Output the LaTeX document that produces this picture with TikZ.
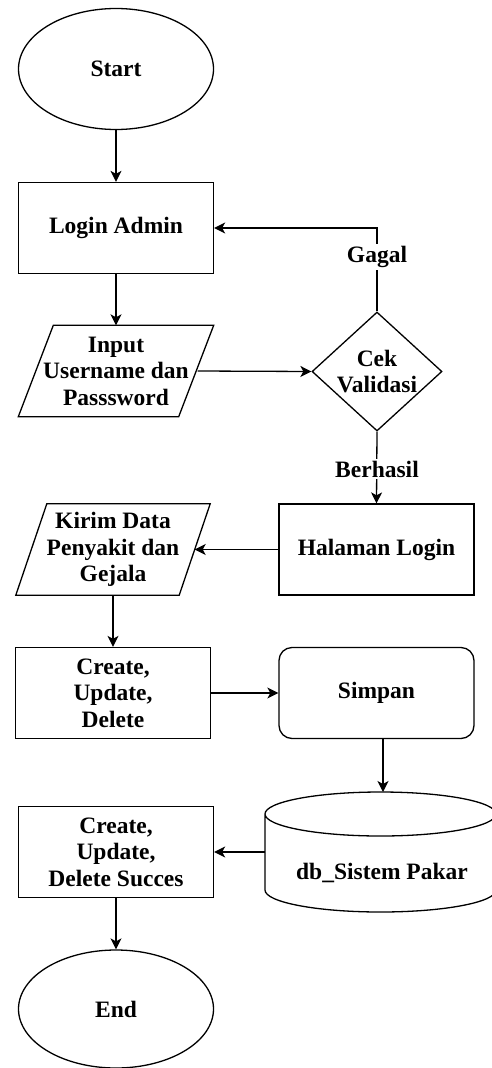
\documentclass[tikz,border=0pt]{standalone}
\usepackage{fontspec}
\setmainfont{Liberation Serif}
\usetikzlibrary{shapes.geometric,arrows.meta,calc}
\begin{document}
\begin{tikzpicture}[x=1pt,y=-1pt,
  every node/.style={font=\bfseries\fontsize{23.5}{26.5}\selectfont, align=center, inner sep=0pt},
  line/.style={line width=1.3pt, draw=black},
  arr/.style={line, -{Stealth[length=11pt,width=11pt,inset=3pt]}},
  terminal/.style={ellipse, line, minimum width=195pt, minimum height=121pt},
  process/.style={rectangle, line, minimum width=195pt, minimum height=91pt},
  rounded/.style={process, rounded corners=13pt},
  decision/.style={diamond, line, minimum width=130pt, minimum height=119pt, aspect=1.09},
  iotext/.style={minimum width=160pt, minimum height=91pt},
  label/.style={fill=white, inner sep=2pt}
]
\useasboundingbox (0,0) rectangle (492,1068);

% start / login
\node[terminal] (start) at (116,69) {Start};
\node[process] (login) at (116,228) {Login Admin};

% input parallelogram
\node[iotext] (input) at (116,371) {Input\\Username dan\\Passsword};
\draw[line] ([xshift=-17.5pt]input.south west) -- ([xshift=-17.5pt]input.south east)
  -- ([xshift=17.5pt]input.north east) -- ([xshift=17.5pt]input.north west) -- cycle;

% validation
\node[decision] (cek) at (377,371.5) {Cek\\Validasi};
\node[process] (halaman) at (376.5,549.5) {Halaman Login};

% send data parallelogram
\node[iotext, minimum width=163pt] (kirim) at (113,549.5) {Kirim Data\\Penyakit dan\\Gejala};
\draw[line] ([xshift=-15.5pt]kirim.south west) -- ([xshift=-15.5pt]kirim.south east)
  -- ([xshift=15.5pt]kirim.north east) -- ([xshift=15.5pt]kirim.north west) -- cycle;

% CRUD and save
\node[process] (crud) at (113,693) {Create,\\Update,\\Delete};
\node[rounded] (simpan) at (376.5,693) {Simpan};

% database cylinder
\draw[line] (265,814) arc[start angle=180, end angle=360, x radius=115.5pt, y radius=22pt]
  arc[start angle=0, end angle=180, x radius=115.5pt, y radius=22pt] -- (265,890)
  arc[start angle=180, end angle=360, x radius=115.5pt, y radius=22pt] -- (496,814);
\node (db) at (382,873) {db\_Sistem Pakar};
\coordinate (dbtop) at (383,792);
\coordinate (dbleft) at (265,852);

% result and end
\node[process] (succes) at (116,852) {Create,\\Update,\\Delete Succes};
\node[terminal, minimum height=118pt] (end) at (116,1009) {End};

% connectors
\draw[arr] (start) -- (login);
\draw[arr] (login) -- (input.north);
\draw[arr] (input.east) ++(1.5pt,0) -- (cek.west);
\draw[arr] (cek.north) -- (cek.north |- login.east) -- (login.east);
\node[label] at (377,257) {Gagal};
\draw[arr] (cek.south) -- (halaman.north);
\node[label] at (377,469) {Berhasil};
\draw[arr] (halaman.west) -- (kirim.east);
\draw[arr] (kirim.south) -- (crud.north);
\draw[arr] (crud.east) -- (simpan.west);
\draw[arr] (simpan.south -| dbtop) -- (dbtop);
\draw[arr] (dbleft) -- (succes.east);
\draw[arr] (succes.south) -- (end.north);
\end{tikzpicture}
\end{document}
